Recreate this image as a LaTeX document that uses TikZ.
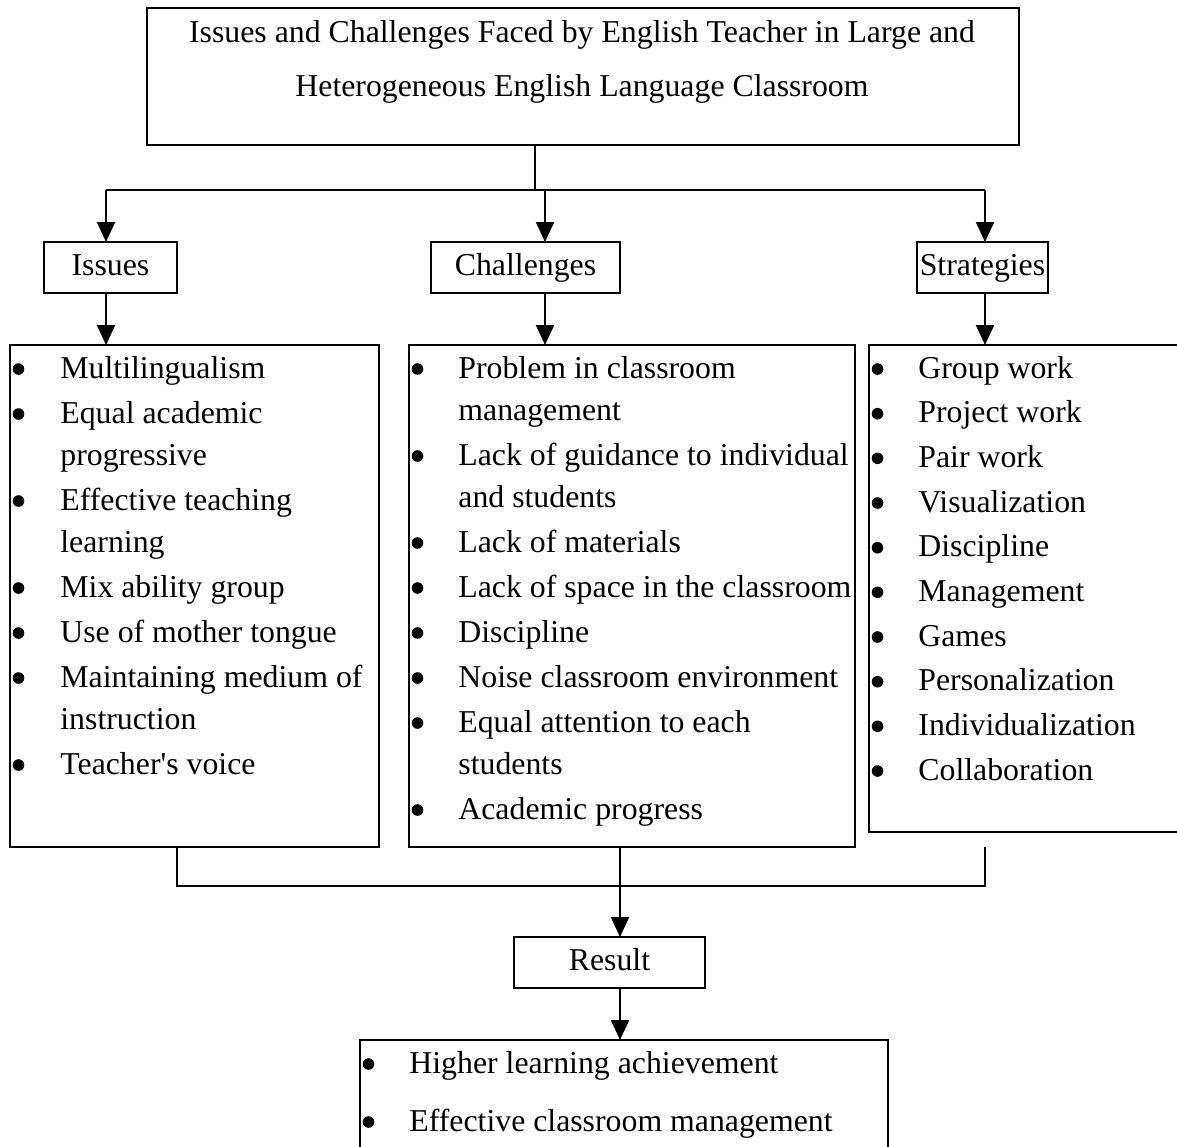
\documentclass[tikz,border=0pt]{standalone}
\usepackage{fontspec}
\setmainfont{Liberation Serif}
\usetikzlibrary{arrows.meta}
\begin{document}
\begin{tikzpicture}[x=0.5pt,y=-0.5pt,
  every node/.style={font=\fontsize{15.9pt}{19pt}\selectfont},
  box/.style={draw, line width=1.1pt, inner sep=0pt, outer sep=0pt},
  lbl/.style={box, text height=10pt, text depth=2.5pt, minimum height=25.5pt},
  txt/.style={anchor=base west, inner sep=0pt},
  bul/.style={circle, fill, inner sep=0pt, minimum size=5.8pt},
  ttl/.style={anchor=base, inner sep=0pt},
  arr/.style={line width=1.1pt, -{Triangle[width=9pt,length=10pt]}},
  conn/.style={line width=1.1pt},
  thinconn/.style={line width=0.8pt}]
\clip (0,0) rectangle (1177,1146);
\useasboundingbox (0,0) rectangle (1177,1146);

% title
\node[box, minimum width=436pt, minimum height=68.5pt] (title) at (583,76.5) {};
\node[ttl] (t1) at (582,42) {Issues and Challenges Faced by English Teacher in Large and};
\node[ttl] (t2) at (582,96) {Heterogeneous English Language Classroom};

% labels
\node[lbl, minimum width=66.5pt] (issues) at (110.5,267.5) {Issues};
\node[lbl, minimum width=94.5pt] (challenges) at (525.5,267.5) {Challenges};
\node[lbl, minimum width=65.5pt] (strategies) at (982.5,267.5) {Strategies};
\node[lbl, minimum width=95.5pt] (result) at (609.5,962.5) {Result};

% list boxes
\node[box, anchor=north west, minimum width=184.5pt, minimum height=251pt] (isslist) at (10,345) {};
\node[box, anchor=north west, minimum width=223pt, minimum height=251pt] (challist) at (409,345) {};
\node[box, anchor=north west, minimum width=160.5pt, minimum height=243.5pt] (stratlist) at (869,345) {};
\node[box, anchor=north west, minimum width=264pt, minimum height=60pt] (outlist) at (360,1040) {};

% issues items
\foreach \f/\y/\t [count=\i] in {
  1/378/Multilingualism,
  1/423/Equal academic,
  0/465/progressive,
  1/510/Effective teaching,
  0/552/learning,
  1/597/Mix ability group,
  1/642/Use of mother tongue,
  1/687/Maintaining medium of,
  0/729/instruction,
  1/774/Teacher\textquotesingle s voice}{
  \node[txt] (iss-\i) at (60,\y) {\t};
  \ifnum\f=1 \node[bul] (issb-\i) at (18.5,\y-9) {};\fi
}

% challenges items
\foreach \f/\y/\t [count=\i] in {
  1/378/Problem in classroom,
  0/420/management,
  1/465/Lack of guidance to individual,
  0/507/and students,
  1/552/Lack of materials,
  1/597/Lack of space in the classroom,
  1/642/Discipline,
  1/687/Noise classroom environment,
  1/732/Equal attention to each,
  0/774/students,
  1/819/Academic progress}{
  \node[txt] (cha-\i) at (458,\y) {\t};
  \ifnum\f=1 \node[bul] (chab-\i) at (417.5,\y-9) {};\fi
}

% strategies items
\foreach \y/\t [count=\i] in {
  378/Group work,
  422.7/Project work,
  467.3/Pair work,
  512/Visualization,
  556.7/Discipline,
  601.3/Management,
  646/Games,
  690.7/Personalization,
  735.3/Individualization,
  780/Collaboration}{
  \node[txt] (str-\i) at (918,\y) {\t};
  \node[bul] (strb-\i) at (877.5,\y-9) {};
}

% result items
\node[txt] (out-1) at (409,1073) {Higher learning achievement};
\node[bul] (outb-1) at (368.5,1064) {};
\node[txt] (out-2) at (409,1131) {Effective classroom management};
\node[bul] (outb-2) at (368.5,1122) {};

% top connectors
\coordinate (split) at (535,190);
\coordinate (hl) at (106,190);
\coordinate (hc) at (545,190);
\coordinate (hr) at (985,190);
\draw[thinconn] (title.south -| split) -- (split);
\draw[conn] (hl) -- (hr);
\draw[arr] (hl) -- (issues.north -| hl);
\draw[arr] (hc) -- (challenges.north -| hc);
\draw[arr] (hr) -- (strategies.north -| hr);
\draw[arr] (issues.south -| hl) -- (isslist.north -| hl);
\draw[arr] (challenges.south -| hc) -- (challist.north -| hc);
\draw[arr] (strategies.south -| hr) -- (stratlist.north -| hr);

% bottom connectors
\coordinate (bl) at (177,886);
\coordinate (br) at (985,886);
\coordinate (rx) at (620,886);
\draw[thinconn] (isslist.south -| bl) -- (bl) -- (br) -- (br |- isslist.south);
\draw[arr] (challist.south -| rx) -- (result.north -| rx);
\draw[arr] (result.south -| rx) -- (outlist.north -| rx);
\end{tikzpicture}
\end{document}
